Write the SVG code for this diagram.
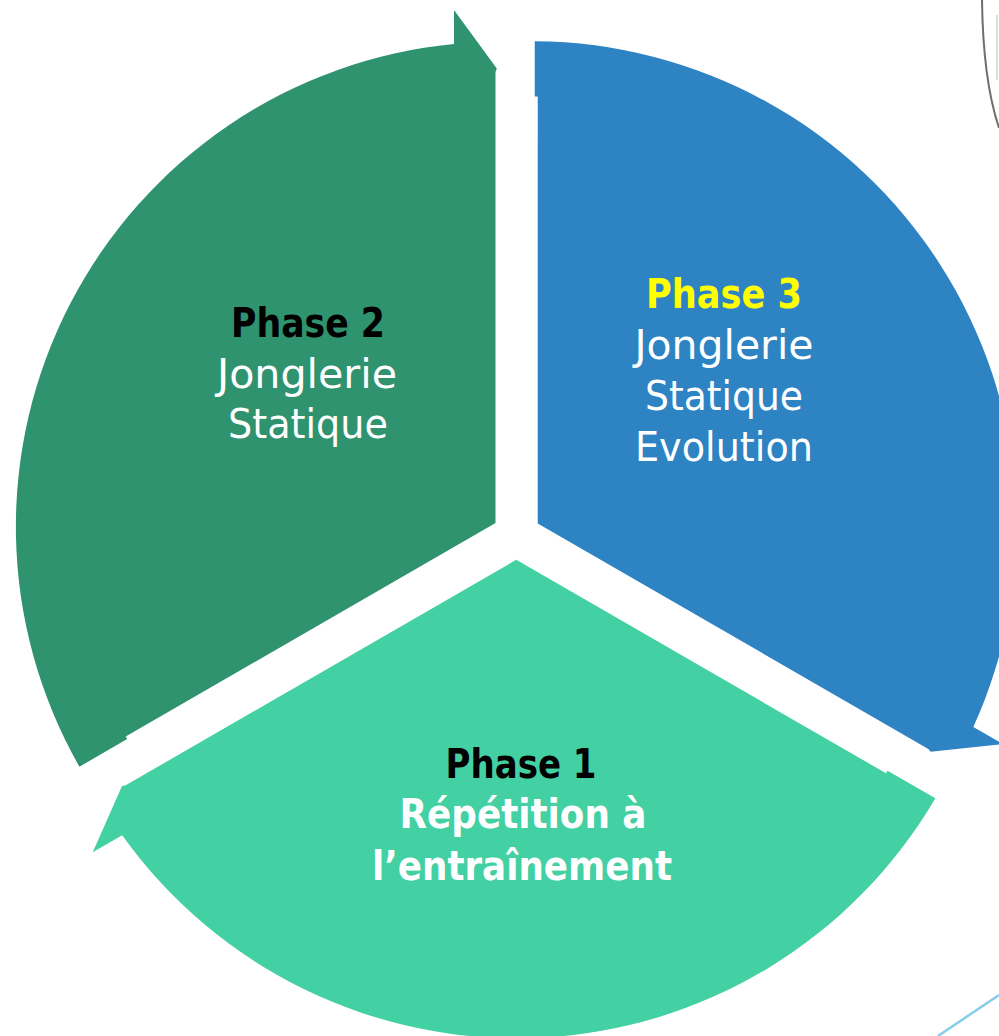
<svg xmlns="http://www.w3.org/2000/svg" width="999" height="1036" viewBox="0 0 999 1036">
  <style>
    .lbl { font-family: "DejaVu Sans", "Liberation Sans", sans-serif; font-size: 40px; text-anchor: middle; }
    .b { font-weight: bold; }
    .w { fill: #ffffff; }
    .k { fill: #000000; }
    .y { fill: #ffff00; }
  </style>
  <defs>
    <path id="seg" d="M 495.5 523 L 495.5 72 L 496.8 68.5 L 454 10 L 454 44 A 485 485 0 0 0 79.4 766.7 L 127.2 739.1 L 125.7 736.5 Z"/>
  </defs>
  <rect width="999" height="1036" fill="#ffffff"/>
  <g id="decor" fill="none">
    <path d="M 982 0 Q 983 80 999 128" stroke="#6e6e6e" stroke-width="2"/>
    <path d="M 997 15 L 997 80" stroke="#c9d8b8" stroke-width="2" opacity="0.7"/>
    <path d="M 938 1036 L 999 995" stroke="#86cdea" stroke-width="2.5"/>
  </g>
  <g id="connectors"></g>
  <g id="node-phase2">
    <use href="#seg" fill="#2e936e"/>
    <text class="lbl b k" x="308" y="337" textLength="154" lengthAdjust="spacingAndGlyphs">Phase 2</text>
    <text class="lbl w" x="307" y="388" textLength="180" lengthAdjust="spacingAndGlyphs">Jonglerie</text>
    <text class="lbl w" x="308" y="438" textLength="160" lengthAdjust="spacingAndGlyphs">Statique</text>
  </g>
  <g id="node-phase3">
    <use href="#seg" fill="#2e83c3" transform="rotate(120 516.5 535.4)"/>
    <text class="lbl b y" x="724" y="308" textLength="156" lengthAdjust="spacingAndGlyphs">Phase 3</text>
    <text class="lbl w" x="724" y="359" textLength="179" lengthAdjust="spacingAndGlyphs">Jonglerie</text>
    <text class="lbl w" x="724" y="410" textLength="158" lengthAdjust="spacingAndGlyphs">Statique</text>
    <text class="lbl w" x="724" y="461" textLength="178" lengthAdjust="spacingAndGlyphs">Evolution</text>
  </g>
  <g id="node-phase1">
    <use href="#seg" fill="#43d0a2" transform="rotate(-120 516.5 535.4)"/>
    <text class="lbl b k" x="521" y="778" textLength="151" lengthAdjust="spacingAndGlyphs">Phase 1</text>
    <text class="lbl b w" x="523" y="828" textLength="247" lengthAdjust="spacingAndGlyphs">Répétition à</text>
    <text class="lbl b w" x="522" y="880" textLength="300" lengthAdjust="spacingAndGlyphs">l’entraînement</text>
  </g>
</svg>
